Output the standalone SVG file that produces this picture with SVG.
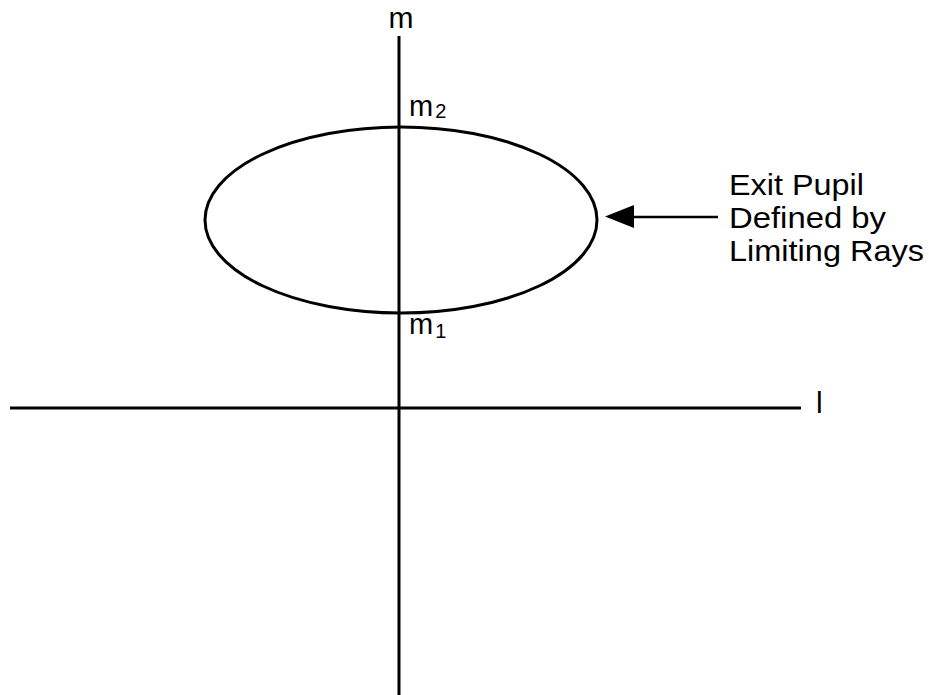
<svg xmlns="http://www.w3.org/2000/svg" width="929" height="695" viewBox="0 0 929 695">
<style>
.ax{stroke:#000;stroke-width:3;fill:none}
.t{font-family:"Liberation Sans",Arial,sans-serif;font-size:30px;fill:#000}
.s{font-family:"Liberation Sans",Arial,sans-serif;font-size:29px;fill:#000}
</style>
<rect width="929" height="695" fill="#fff"/>
<g id="axes">
<line class="ax" x1="399" y1="36" x2="399" y2="695"/>
<line class="ax" x1="10" y1="408" x2="801" y2="408"/>
<text class="t" x="401" y="28" font-size="32" text-anchor="middle">m</text>
<text class="t" x="816" y="413" font-size="32">l</text>
</g>
<g id="pupil">
<ellipse class="ax" cx="401" cy="220" rx="196" ry="93"/>
<text class="s" x="409" y="116">m<tspan font-size="20" dx="2" dy="2">2</tspan></text>
<text class="s" x="409" y="334">m<tspan font-size="20" dx="2" dy="4">1</tspan></text>
</g>
<g id="connectors">
<line x1="718" y1="217" x2="632" y2="217" stroke="#000" stroke-width="2.5"/>
<path d="M634,205 L605,216.5 L634,228 Z" fill="#000"/>
</g>
<g id="label">
<text class="t" x="729" y="195" textLength="135" lengthAdjust="spacingAndGlyphs">Exit Pupil</text>
<text class="t" x="729" y="228" textLength="157" lengthAdjust="spacingAndGlyphs">Defined by</text>
<text class="t" x="729" y="261" textLength="195" lengthAdjust="spacingAndGlyphs">Limiting Rays</text>
</g>
</svg>
